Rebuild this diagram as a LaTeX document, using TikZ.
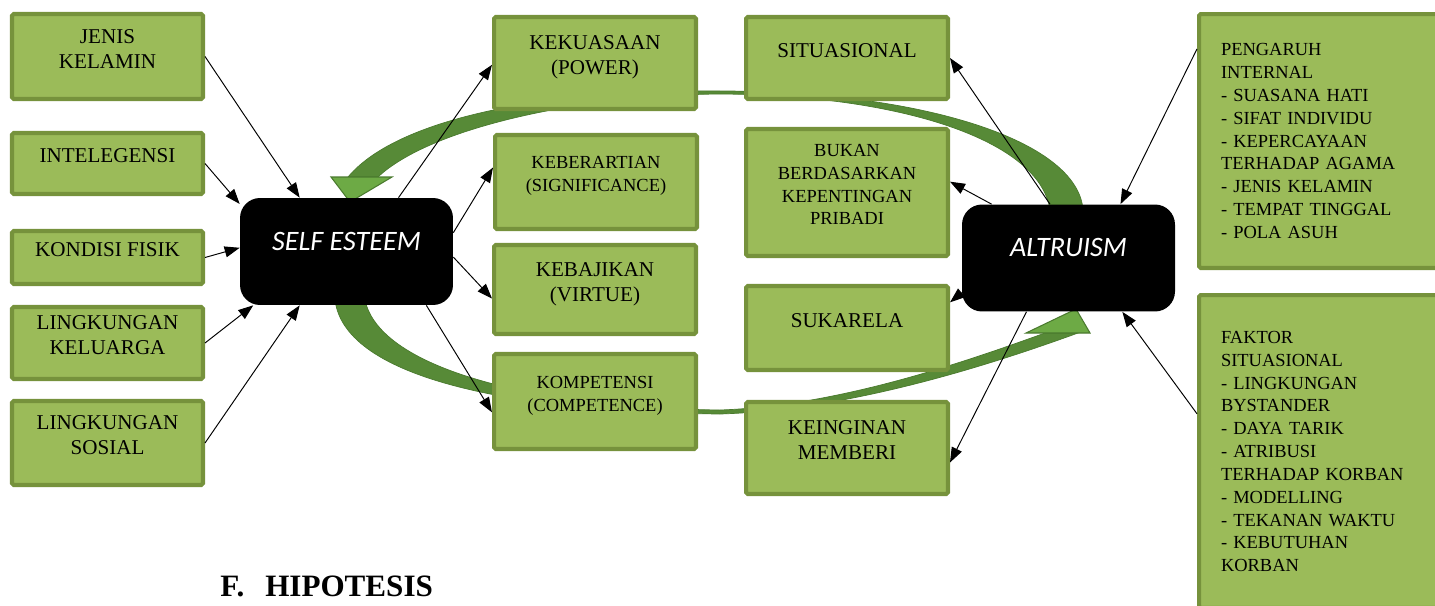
\documentclass[tikz,border=0pt]{standalone}
\usepackage{fontspec}
\setmainfont{Liberation Serif}
\newfontfamily\calibri{Carlito}
\usepackage{tikz}
\usetikzlibrary{positioning,arrows.meta}

\definecolor{boxgreen}{HTML}{9BBB59}
\definecolor{boxedge}{HTML}{76923C}
\definecolor{bandgreen}{HTML}{578A37}
\definecolor{bandedge}{HTML}{4A7A2E}
\definecolor{headgreen}{HTML}{6DAA45}

\begin{document}
\begin{tikzpicture}[x=0.02cm,y=-0.02cm,
    box/.style={draw=boxedge,fill=boxgreen,line width=2.3pt,rounded corners=1pt,
      align=center,text depth=9pt,font=\fontsize{12}{14.2}\selectfont},
    leftbox/.style={box,minimum width=3.82cm},
    midbox/.style={box,minimum width=4.04cm},
    small/.style={font=\fontsize{10.5}{13}\selectfont},
    listbox/.style={draw=boxedge,fill=boxgreen,line width=2.3pt,rounded corners=1pt,
      align=left,text width=4.3cm,inner xsep=0.44cm,font=\fontsize{10.5}{13}\selectfont},
    mainbox/.style={fill=black,rounded corners=0.4cm,minimum width=4.26cm,minimum height=2.14cm,
      text=white,text depth=12pt,font=\calibri\itshape\fontsize{16}{19}\selectfont},
    band/.style={fill=bandgreen,draw=bandedge,line width=0.4pt},
    bandhead/.style={fill=headgreen,draw=bandedge,line width=0.6pt},
    link/.style={-{Triangle[length=0.3cm,width=0.22cm]},line width=0.55pt}]

    \useasboundingbox (0,0) rectangle (1435,605);
    \clip (0,0) rectangle (1435,605);

    % green cycle, behind the boxes
    \path[band] (1083,210) .. controls (1078,140) and (920,91) .. (720,91)
        .. controls (560,89) and (400,115) .. (348,177) -- (378,177)
        .. controls (430,128) and (580,95) .. (720,94)
        .. controls (900,95) and (1040,140) .. (1050,210) -- cycle;
    \path[bandhead] (331,177) -- (392,177) -- (350,202) -- cycle;

    \path[band] (335,300) .. controls (345,380) and (520,412) .. (720,414)
        .. controls (850,410) and (990,365) .. (1078,333) -- (1045,333)
        .. controls (970,360) and (840,406) .. (720,410)
        .. controls (540,408) and (380,370) .. (365,300) -- cycle;
    \path[bandhead] (1026,333) -- (1090,333) -- (1076,309) -- cycle;

    % factors of self esteem
    \node[leftbox, minimum height=1.7cm]  (jk) at (107.5,56.5) {JENIS\\KELAMIN};
    \node[leftbox, minimum height=1.22cm] (ig) at (107.5,163.5) {INTELEGENSI};
    \node[leftbox, minimum height=1.06cm] (kf) at (107.5,257.5) {KONDISI FISIK};
    \node[leftbox, minimum height=1.44cm] (lk) at (107.5,343) {LINGKUNGAN\\KELUARGA};
    \node[leftbox, minimum height=1.68cm] (ls) at (107.5,443) {LINGKUNGAN\\SOSIAL};

    % aspects of self esteem
    \node[midbox, minimum height=1.84cm] (ku) at (595,63) {KEKUASAAN\\(POWER)};
    \node[midbox, small, minimum height=1.88cm] (kb) at (596,182) {KEBERARTIAN\\(SIGNIFICANCE)};
    \node[midbox, minimum height=1.78cm] (vj) at (595,289.5) {KEBAJIKAN\\(VIRTUE)};
    \node[midbox, small, minimum height=1.9cm] (kp) at (595,401.5) {KOMPETENSI\\(COMPETENCE)};

    % aspects of altruism
    \node[midbox, minimum height=1.64cm] (st) at (847,58) {SITUASIONAL};
    \node[midbox, small, minimum height=2.54cm] (bk) at (847,192.5) {BUKAN\\BERDASARKAN\\KEPENTINGAN\\PRIBADI};
    \node[midbox, minimum height=1.68cm] (sk) at (847,328) {SUKARELA};
    \node[midbox, minimum height=1.84cm] (km) at (847,448) {KEINGINAN\\MEMBERI};

    % factors of altruism
    \node[listbox, minimum height=5.08cm] (pi) at (1328.5,141) {PENGARUH\\INTERNAL\\- SUASANA HATI\\- SIFAT INDIVIDU\\- KEPERCAYAAN\\TERHADAP AGAMA\\- JENIS KELAMIN\\- TEMPAT TINGGAL\\- POLA ASUH};
    \node[listbox, minimum height=6.26cm] (fs) at (1328.5,451.5) {FAKTOR\\SITUASIONAL\\- LINGKUNGAN\\BYSTANDER\\- DAYA TARIK\\- ATRIBUSI\\TERHADAP KORBAN\\- MODELLING\\- TEKANAN WAKTU\\- KEBUTUHAN\\KORBAN};

    % main variables
    \node[mainbox] (se) at (346.5,251.5) {SELF ESTEEM};
    \node[mainbox] (al) at (1068.5,258) {ALTRUISM};

    \draw[link] (jk.east) -- (se.131);
    \draw[link] (ig.east) -- (se.156);
    \draw[link] (kf.east) -- (se.178);
    \draw[link] (lk.east) -- (se.210);
    \draw[link] (ls.east) -- (se.229);

    \draw[link] (se.46) -- (ku.181);
    \draw[link] (se.10) -- (kb.172);
    \draw[link] (se.-3) -- (vj.185);
    \draw[link] (se.-34) -- (kp.186);

    \draw[link] (al.109) -- (st.east);
    \draw[link] (al.145) -- (bk.6);
    \draw[link] (al.198) -- (sk.14);
    \draw[link] (al.232) -- (km.-8);

    \draw[link] (pi.145) -- (al.46);
    \draw[link] (fs.164) -- (al.-45);

    \node[anchor=base west, inner sep=0, font=\bfseries\fontsize{17.7}{20}\selectfont] (hip) at (220,596) {F.\hspace{0.42cm}HIPOTESIS};
\end{tikzpicture}
\end{document}
